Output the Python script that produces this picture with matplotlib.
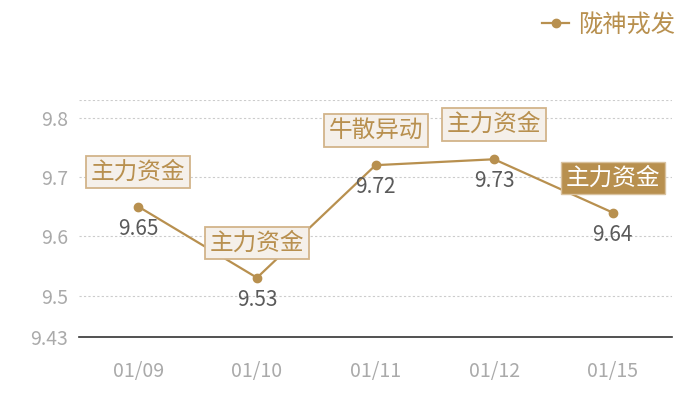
import matplotlib
matplotlib.use('Agg')
import matplotlib.pyplot as plt

plt.rcParams['font.family'] = ['Noto Sans CJK SC', 'DejaVu Sans']

dates = ['01/09', '01/10', '01/11', '01/12', '01/15']
prices = [9.65, 9.53, 9.72, 9.73, 9.64]
tags = ['主力资金', '主力资金', '牛散异动', '主力资金', '主力资金']
highlight = [False, False, False, False, True]
series_name = '陇神戎发'
yticks = [9.43, 9.5, 9.6, 9.7, 9.8]

gold = '#b8904f'

fig = plt.figure(figsize=(7, 4), dpi=100)
ax = fig.add_axes([0.113, 0.1575, 0.847, 0.5925])
x = list(range(len(dates)))

ax.plot(x, prices, color=gold, lw=1.6, marker='o', ms=6, zorder=3, label=series_name)

# 數值標籤
for xi, v in zip(x, prices):
    ax.annotate(f'{v:.2f}', (xi, v), xytext=(0, -16), textcoords='offset points',
                ha='center', va='center', fontsize=15, color='#5a5a5a', zorder=4)

# 標記框
for xi, v, t, hl in zip(x, prices, tags, highlight):
    if hl:
        box = dict(boxstyle='square,pad=0.2', fc=gold, ec='#d9c29f', lw=1)
        tc = 'white'
    else:
        box = dict(boxstyle='square,pad=0.2', fc='#f5f0ea', ec='#d2b48a', lw=1.3)
        tc = gold
    ax.annotate(t, (xi, v), xytext=(0, 25), textcoords='offset points',
                ha='center', va='center', fontsize=17, color=tc, bbox=box, zorder=5)

ax.set_xlim(-0.5, 4.5)
ax.set_ylim(9.43, 9.83)
ax.set_xticks(x)
ax.set_xticklabels(dates)
ax.set_yticks(yticks)
ax.set_yticklabels(['9.43', '9.5', '9.6', '9.7', '9.8'])
ax.tick_params(axis='both', length=0, colors='#aaaaaa', labelsize=14)
ax.tick_params(axis='x', pad=17)
ax.tick_params(axis='y', pad=8)

for yv in yticks[1:] + [9.83]:
    ax.axhline(yv, color='#cccccc', lw=0.8, ls=(0, (2, 2)), zorder=1)

for s in ['top', 'right', 'left']:
    ax.spines[s].set_visible(False)
ax.spines['bottom'].set_color('#333333')
ax.spines['bottom'].set_linewidth(1.2)

leg = fig.legend(loc='upper right', bbox_to_anchor=(0.995, 1.025), frameon=False,
                 fontsize=17.5, handlelength=1.1, handletextpad=0.35)
for t in leg.get_texts():
    t.set_color(gold)

fig.savefig('out.png', dpi=100)
